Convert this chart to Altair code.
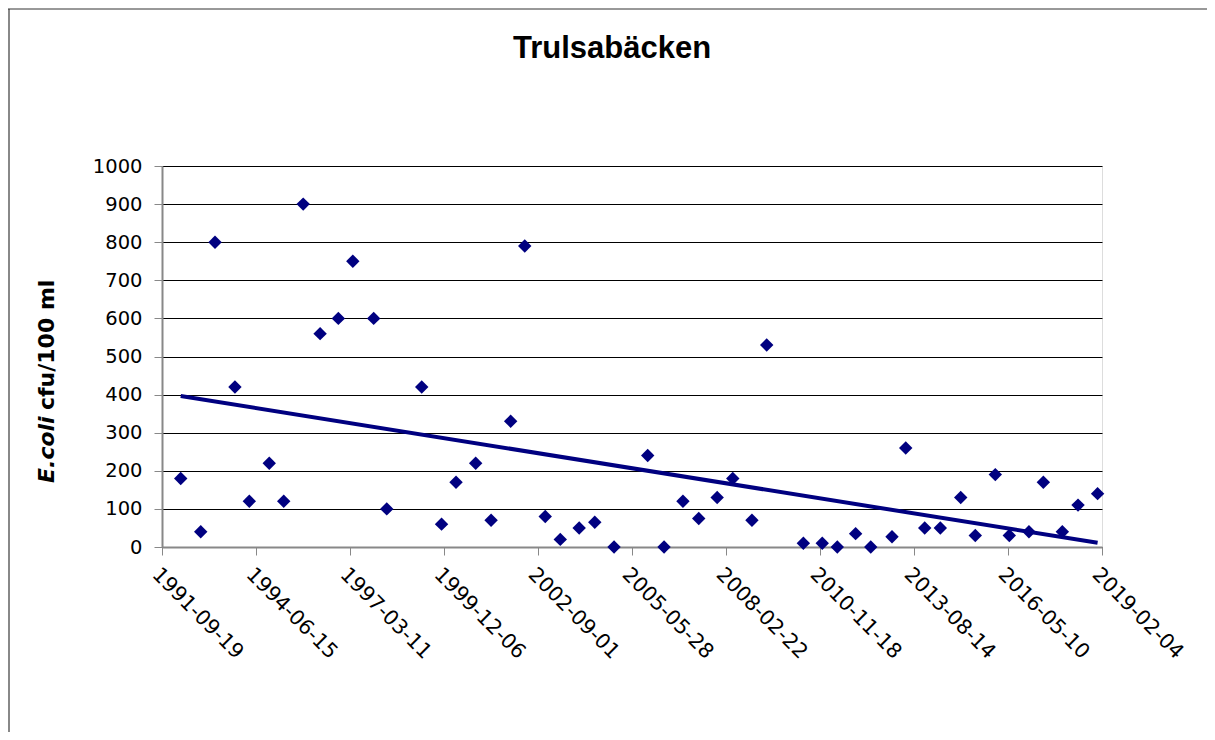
import altair as alt
import pandas as pd

# ---- data ----
dates = [
    "1992-04-05", "1992-11-04", "1993-04-05", "1993-11-03", "1994-04-05",
    "1994-11-03", "1995-04-06", "1995-10-30", "1996-04-27", "1996-11-07",
    "1997-04-10", "1997-11-18", "1998-04-06", "1999-04-13", "1999-11-10",
    "2000-04-12", "2000-11-07", "2001-04-20", "2001-11-14", "2002-04-13",
    "2002-11-17", "2003-04-26", "2003-11-13", "2004-04-27", "2004-11-18",
    "2005-11-11", "2006-05-04", "2006-11-21", "2007-05-08", "2007-11-20",
    "2008-05-04", "2008-11-24", "2009-04-30", "2010-05-25", "2010-12-12",
    "2011-05-21", "2011-12-02", "2012-05-11", "2012-12-23", "2013-05-18",
    "2013-12-06", "2014-05-21", "2014-12-24", "2015-05-28", "2015-12-27",
    "2016-05-24", "2016-12-19", "2017-05-21", "2017-12-09", "2018-05-25",
    "2018-12-19",
]
values = [
    180, 40, 800, 420, 120,
    220, 120, 900, 560, 600,
    750, 600, 100, 420, 60,
    170, 220, 70, 330, 790,
    80, 20, 50, 65, 0,
    240, 0, 120, 75, 130,
    180, 70, 530, 10, 10,
    0, 35, 0, 27, 260,
    50, 50, 130, 30, 190,
    30, 40, 170, 40, 110,
    140,
]
tick_labels = [
    "1991-09-19", "1994-06-15", "1997-03-11", "1999-12-06", "2002-09-01",
    "2005-05-28", "2008-02-22", "2010-11-18", "2013-08-14", "2016-05-10",
    "2019-02-04",
]
y_ticks = [0, 100, 200, 300, 400, 500, 600, 700, 800, 900, 1000]
chart_title = "Trulsabäcken"
y_title_italic = "E.coli"
y_title_rest = "cfu/100 ml"


def ms(s):
    return int(pd.Timestamp(s).value // 10**6)


df = pd.DataFrame({"t": [ms(d) for d in dates], "value": values})
tick_ms = [ms(s) for s in tick_labels]
ann = pd.DataFrame({"k": [0]})

NAVY = "#000080"
W, H = 940, 381

x_scale = alt.Scale(type="utc", domain=[tick_ms[0], tick_ms[-1]], nice=False)
x_axis = alt.Axis(
    values=tick_ms, format="%Y-%m-%d", title=None, grid=False,
    labelAngle=45, labelAlign="left", labelBaseline="top",
    labelFont="DejaVu Sans", labelFontSize=20.5, labelColor="black",
    labelPadding=9, tickSize=8, tickColor="#888888",
    domainColor="#888888", domainWidth=2, labelOverlap=False,
)
y_scale = alt.Scale(domain=[0, 1000], nice=False)
y_axis = alt.Axis(
    values=y_ticks, format="d", title=None, grid=True, gridColor="black",
    gridWidth=1, labelFont="DejaVu Sans", labelFontSize=19.5,
    labelColor="black", labelPadding=12, tickSize=8, tickColor="#888888",
    domainColor="#888888", domainWidth=2,
)

points = alt.Chart(df).mark_point(
    shape="diamond", filled=True, size=180, color=NAVY, opacity=1
).encode(
    x=alt.X("t:T", scale=x_scale, axis=x_axis),
    y=alt.Y("value:Q", scale=y_scale, axis=y_axis),
)

trend = alt.Chart(df).transform_regression("t", "value").mark_line(
    color=NAVY, strokeWidth=4
).encode(
    x=alt.X("t:T", scale=x_scale, axis=x_axis),
    y=alt.Y("value:Q", scale=y_scale, axis=y_axis),
)

title_mark = alt.Chart(ann).mark_text(
    text=chart_title, font="Liberation Sans", fontSize=31, fontWeight="bold",
    align="center", baseline="alphabetic", color="black",
).encode(x=alt.value(450), y=alt.value(-108))

ytitle_a = alt.Chart(ann).mark_text(
    text=y_title_italic, font="DejaVu Sans", fontSize=22, fontWeight="bold",
    fontStyle="italic", align="left", baseline="middle", angle=270, color="black",
).encode(x=alt.value(-115), y=alt.value(317))

ytitle_b = alt.Chart(ann).mark_text(
    text=y_title_rest, font="DejaVu Sans", fontSize=22, fontWeight="bold",
    align="left", baseline="middle", angle=270, color="black",
).encode(x=alt.value(-115), y=alt.value(244))

border_left = alt.Chart(ann).mark_rule(color="#888888", strokeWidth=2).encode(
    x=alt.value(-153), y=alt.value(-157), y2=alt.value(H + 185)
)
border_top = alt.Chart(ann).mark_rule(color="#333333", strokeWidth=1).encode(
    x=alt.value(-154), x2=alt.value(W + 105), y=alt.value(-157)
)

chart = alt.layer(
    trend, points, title_mark, ytitle_a, ytitle_b, border_left, border_top
).properties(
    width=W, height=H,
    autosize=alt.AutoSizeParams(type="none"),
    padding={"left": 154, "top": 158, "right": 105, "bottom": 185},
).configure_view(
    stroke="#888888", strokeWidth=2
).configure(background="white")

chart.save("out.html", embed_options={"renderer": "svg", "actions": False})
